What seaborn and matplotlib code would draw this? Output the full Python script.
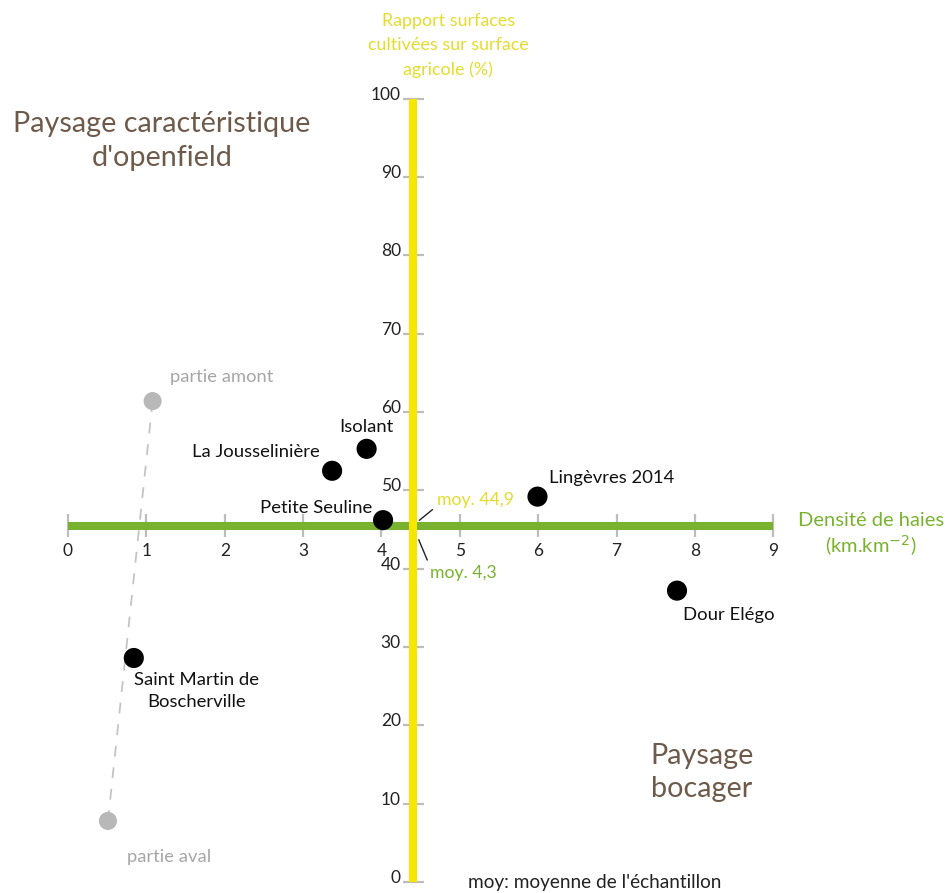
import numpy as np
import pandas as pd
import matplotlib.pyplot as plt
import seaborn as sns

# valeurs
sites = ["Petite Seuline", "La Jousselinière", "Isolant", "Lingèvres 2014",
         "Dour Elégo", "Saint Martin de\nBoscherville"]
densite_haies = [4.02, 3.37, 3.81, 5.99, 7.77, 0.84]
rapport_cultive = [46.2, 52.5, 55.3, 49.2, 37.2, 28.6]

parties = ["partie amont", "partie aval"]
partie_densite = [1.08, 0.51]
partie_rapport = [61.4, 7.8]

moy_densite = 4.4   # position de l'axe vertical
moy_rapport = 45.5  # position de l'axe horizontal
moy_labels = ["moy. 44,9", "moy. 4,3"]

x_ticks = list(range(0, 10))
y_ticks = list(range(0, 101, 10))

YELLOW = "#f7e600"
YELLOW_TXT = "#e4dc2c"
GREEN = "#79b22f"
BROWN = "#6e5a4a"
GRAY = "#b8b8b8"
GRAY_TXT = "#a6a6a6"

sns.set_style("white")
plt.rcParams["font.family"] = ["Lato", "DejaVu Sans"]

fig = plt.figure(figsize=(9.49, 8.93), dpi=100)
ax = fig.add_axes([0, 0, 1, 1])
ax.set_xlim(-0.867, 11.24)
ax.set_ylim(-1.40, 112.6)
ax.axis("off")

# axes croisés
ax.vlines(x_ticks, moy_rapport - 1.5, moy_rapport + 1.5, color="#bdbdbd", lw=1.6, zorder=1)
ax.hlines(y_ticks, moy_densite - 0.12, moy_densite + 0.14, color="#bdbdbd", lw=1.6, zorder=1)
ax.plot([0, 9], [moy_rapport, moy_rapport], color=GREEN, lw=5.8, solid_capstyle="butt", zorder=2)
ax.plot([moy_densite, moy_densite], [0, 100], color=YELLOW, lw=5.8, solid_capstyle="butt", zorder=3)

for t in x_ticks:
    ax.annotate(str(t), (t, moy_rapport), xytext=(0, -25), textcoords="offset pixels",
                ha="center", va="center", fontsize=12.5, color="#222222")
for t in y_ticks:
    ax.annotate(str(t), (moy_densite, t), xytext=(-12, 4), textcoords="offset pixels",
                ha="right", va="center", fontsize=12.5, color="#222222")

# ligne pointillée amont / aval
ax.plot(partie_densite, partie_rapport, color="#c4c4c4", lw=1.3, ls=(0, (6, 6)), zorder=4)

pts = pd.DataFrame({"site": sites, "densite": densite_haies, "rapport": rapport_cultive})
sns.scatterplot(data=pts, x="densite", y="rapport", s=210, color="black",
                edgecolor="none", ax=ax, legend=False, zorder=5, clip_on=False)
parts = pd.DataFrame({"partie": parties, "densite": partie_densite, "rapport": partie_rapport})
sns.scatterplot(data=parts, x="densite", y="rapport", s=170, color=GRAY,
                edgecolor="none", ax=ax, legend=False, zorder=5, clip_on=False)

# étiquettes des sites
offsets = [(-11, 12, "right"), (-12, 19, "right"), (0, 22, "center"),
           (12, 19, "left"), (6, -24, "left"), (63, -33, "center")]
for name, x, y, (dx, dy, ha) in zip(sites, densite_haies, rapport_cultive, offsets):
    ax.annotate(name, (x, y), xytext=(dx, dy), textcoords="offset pixels",
                ha=ha, va="center", fontsize=13.3, color="#111111",
                multialignment="center", linespacing=1.5, zorder=6)
for name, x, y, (dx, dy) in zip(parties, partie_densite, partie_rapport, [(17, 24), (19, -36)]):
    ax.annotate(name, (x, y), xytext=(dx, dy), textcoords="offset pixels",
                ha="left", va="center", fontsize=13.2, color=GRAY_TXT)

# moyennes
ax.annotate(moy_labels[0], (moy_densite, moy_rapport), xytext=(24, 26), textcoords="offset pixels",
            ha="left", va="center", fontsize=12.7, color=YELLOW_TXT,
            arrowprops=dict(arrowstyle="-", color="#222222", lw=1, relpos=(0, 0.1),
                            shrinkA=1, shrinkB=6))
ax.annotate(moy_labels[1], (moy_densite, moy_rapport), xytext=(17, -47), textcoords="offset pixels",
            ha="left", va="center", fontsize=12.7, color=GREEN,
            arrowprops=dict(arrowstyle="-", color="#222222", lw=1, relpos=(0, 0.9),
                            shrinkA=1, shrinkB=11))

# titres des axes
ax.text(4.85, 106.8, "Rapport surfaces\ncultivées sur surface\nagricole (%)",
        ha="center", va="center", fontsize=12.9, color=YELLOW_TXT, linespacing=1.62)
ax.text(10.24, 44.3, "Densité de haies\n(km.km$^{-2}$)", ha="center", va="center",
        fontsize=14.5, color=GREEN, linespacing=1.2)

# zones de paysage
ax.text(1.2, 94.6, "Paysage caractéristique\nd'openfield", ha="center", va="center",
        fontsize=20.7, color=BROWN, linespacing=1.36)
ax.text(8.09, 14.0, "Paysage\nbocager", ha="center", va="center",
        fontsize=20.7, color=BROWN, linespacing=1.36)

ax.text(5.1, -0.1, "moy: moyenne de l'échantillon", ha="left", va="center",
        fontsize=13.7, color="#222222")

fig.savefig("out.png", dpi=100)
